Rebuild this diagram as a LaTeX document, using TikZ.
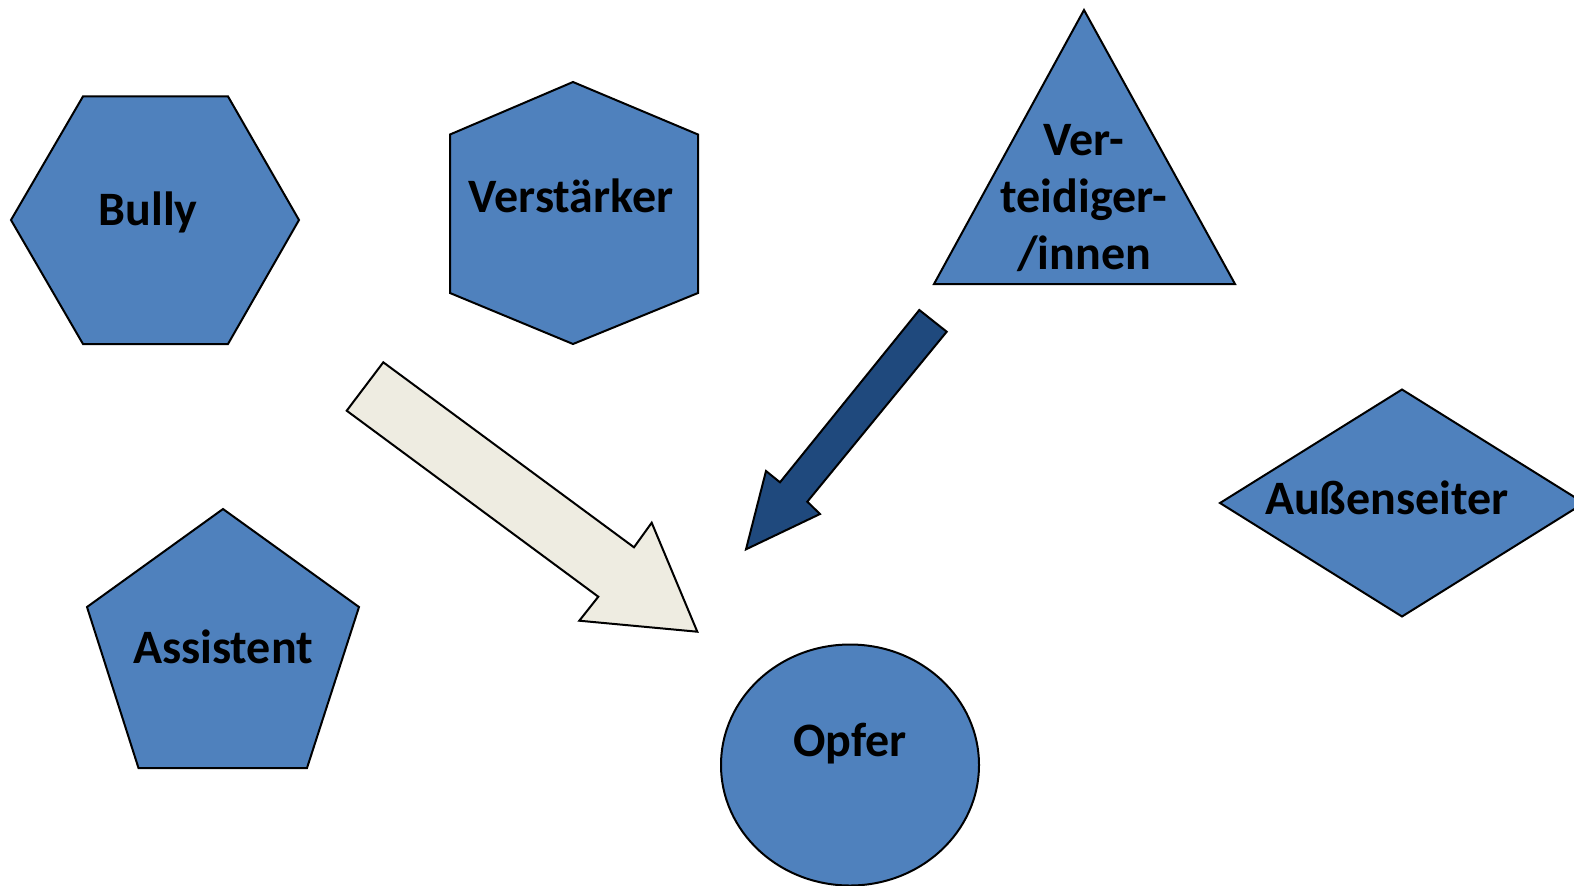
\documentclass[tikz,border=0pt]{standalone}
\usepackage{fontspec}
\setmainfont{Carlito}
\definecolor{shapeblue}{HTML}{4F81BD}
\definecolor{beige}{HTML}{EEECE1}
\definecolor{navy}{HTML}{1F497D}
\begin{document}
\begin{tikzpicture}[x=0.5pt,y=-0.5pt,
  shapefill/.style={fill=shapeblue,draw=black,line width=1pt,line join=miter},
  lbl/.style={font=\fontsize{24}{28.5}\selectfont\bfseries,text=black,inner sep=0pt,align=center},
  blockarrow/.style={draw=black,line width=1pt,line join=miter}]
\useasboundingbox (0,0) rectangle (1574,885);
\begin{scope}
\clip (0,0) rectangle (1574,885);
% Bully hexagon
\draw[shapefill] (83,96.4) -- (228,96.4) -- (299,220) -- (228,344) -- (83,344) -- (11,220) -- cycle;
% Verstaerker hexagon
\draw[shapefill] (573,82) -- (698,134.5) -- (698,293) -- (573,344) -- (450,293) -- (450,134.5) -- cycle;
% triangle
\draw[shapefill] (1084,10) -- (1235,284) -- (934,284) -- cycle;
% diamond
\draw[shapefill] (1220,503) -- (1402,389.5) -- (1584,503) -- (1402,616.5) -- cycle;
% pentagon
\draw[shapefill] (223,509) -- (359,607) -- (307,768) -- (138.5,768) -- (87,607) -- cycle;
% ellipse
\draw[shapefill] (850,765) ellipse [x radius=129, y radius=120.5];
% beige arrow
\draw[blockarrow,fill=beige] (383.3,362.3) -- (634,547.3) -- (651.7,522.7) -- (697.3,631.7) -- (579.3,620.7) -- (598.3,596.7) -- (346.7,410.7) -- cycle;
% navy arrow
\draw[blockarrow,fill=navy] (919.3,310) -- (946.7,331.7) -- (807.3,501.7) -- (820,514) -- (746,549.3) -- (766,471) -- (780,482.3) -- cycle;
\end{scope}
\node[lbl] (bully) at (148,212) {Bully};
\node[lbl] (verst) at (571,196) {Verstärker};
\node[lbl] (vert) at (1084,198) {Ver-\\teidiger-\\/innen};
\node[lbl] (aussen) at (1387,498) {Außenseiter};
\node[lbl] (assist) at (223,647) {Assistent};
\node[lbl] (opfer) at (850,744) {Opfer};
\end{tikzpicture}
\end{document}
